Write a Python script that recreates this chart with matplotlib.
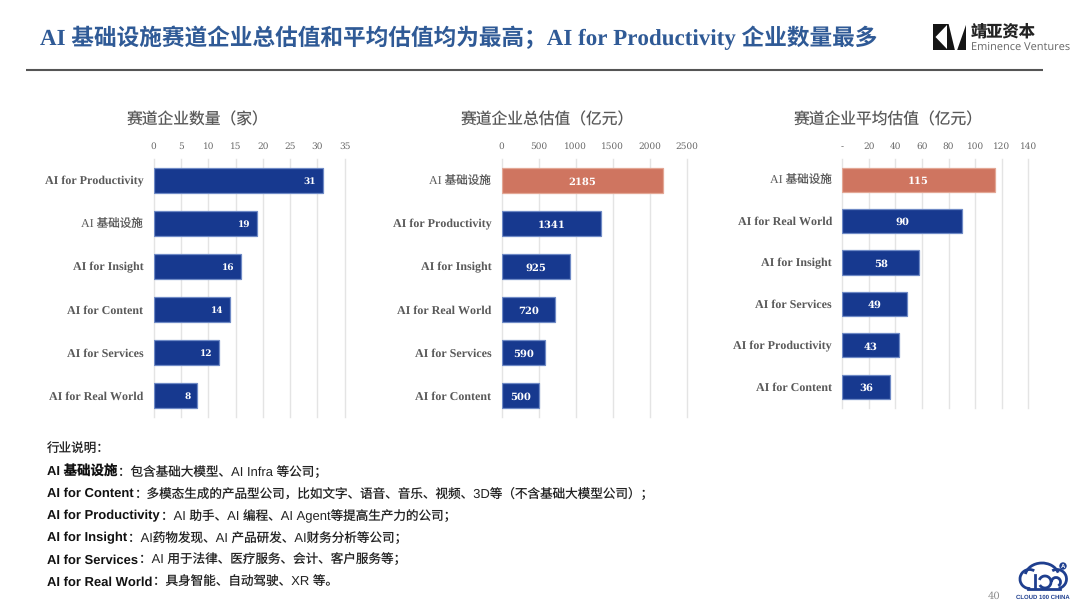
import matplotlib
matplotlib.use('Agg')
import matplotlib.pyplot as plt
from matplotlib.patches import Rectangle, Polygon, Arc, Circle

plt.rcParams['text.hinting'] = 'no_hinting'
plt.rcParams['text.hinting_factor'] = 1

W, H = 1080, 607
SERIF = ['Liberation Serif', 'Noto Sans CJK SC']
DIGIT = ['DejaVu Serif']
SANS = ['Liberation Sans', 'Noto Sans CJK SC']

TITLE = 'AI 基础设施赛道企业总估值和平均估值均为最高；AI for Productivity 企业数量最多'

chart_titles = ['赛道企业数量（家）', '赛道企业总估值（亿元）', '赛道企业平均估值（亿元）']

count_cats = ['AI for Productivity', 'AI 基础设施', 'AI for Insight', 'AI for Content', 'AI for Services', 'AI for Real World']
count_vals = [31, 19, 16, 14, 12, 8]
count_ticks = [0, 5, 10, 15, 20, 25, 30, 35]

total_cats = ['AI 基础设施', 'AI for Productivity', 'AI for Insight', 'AI for Real World', 'AI for Services', 'AI for Content']
total_vals = [2185, 1341, 925, 720, 590, 500]
total_ticks = [0, 500, 1000, 1500, 2000, 2500]

avg_cats = ['AI 基础设施', 'AI for Real World', 'AI for Insight', 'AI for Services', 'AI for Productivity', 'AI for Content']
avg_vals = [115, 90, 58, 49, 43, 36]
avg_ticks = [0, 20, 40, 60, 80, 100, 120, 140]
avg_ticklabels = ['-', '20', '40', '60', '80', '100', '120', '140']

notes_head = '行业说明：'
notes_bold = ['AI 基础设施', 'AI for Content', 'AI for Productivity', 'AI for Insight', 'AI for Services', 'AI for Real World']
notes_text = ['：包含基础大模型、AI Infra 等公司；',
              '：多模态生成的产品型公司，比如文字、语音、音乐、视频、3D等（不含基础大模型公司）；',
              '：AI 助手、AI 编程、AI Agent等提高生产力的公司；',
              '：AI药物发现、AI 产品研发、AI财务分析等公司；',
              '：AI 用于法律、医疗服务、会计、客户服务等；',
              '：具身智能、自动驾驶、XR 等。']

BLUE = '#17398F'
EDGE = '#6F8AC6'
HILITE = '#CF7560'
HILITE_EDGE = '#E3A795'
GREY = '#595959'
TITLE_BLUE = '#2F5A96'

fig = plt.figure(figsize=(W / 100, H / 100), dpi=100, facecolor='white')
bg = fig.add_axes([0, 0, 1, 1])
bg.set_xlim(0, W)
bg.set_ylim(H, 0)
bg.axis('off')

bg.text(40, 38, TITLE, family=SERIF, weight='bold', fontsize=16.3, color=TITLE_BLUE, va='center', ha='left')
bg.plot([26, 1043], [69.5, 69.5], color='#555555', lw=1.5, solid_capstyle='butt')


def bar_panel(rect, cats, vals, ticks, xmax, ticklabels=None, hilite=None):
    l, t, r, b = rect
    ax = fig.add_axes([l / W, 1 - b / H, (r - l) / W, (b - t) / H])
    ax.set_facecolor('none')
    pos = list(range(len(cats)))
    colors = [HILITE if i == hilite else BLUE for i in pos]
    edges = [HILITE_EDGE if i == hilite else EDGE for i in pos]
    ax.barh(pos, vals, height=0.585, color=colors, edgecolor=edges, linewidth=0.9, zorder=3)
    ax.set_xlim(0, xmax)
    ax.set_ylim(len(cats) - 0.5, -0.5)
    ax.set_xticks(ticks)
    ax.set_xticklabels(ticklabels if ticklabels else [str(v) for v in ticks],
                       family=DIGIT, fontsize=6.5, color='#666666')
    ax.set_yticks(pos)
    ax.set_yticklabels(cats, family=SERIF, fontsize=8.3, weight='bold', color=GREY)
    for lab, c in zip(ax.get_yticklabels(), cats):
        if not c.isascii():
            lab.set_fontweight('normal')
    ax.xaxis.tick_top()
    ax.tick_params(axis='x', length=0, pad=6)
    ax.tick_params(axis='y', length=0, pad=7.5)
    ax.grid(axis='x', color='#E4E4E4', lw=1.0, zorder=0)
    for g in ax.get_xgridlines():
        g.set_clip_on(False)
    for s in ax.spines.values():
        s.set_visible(False)
    return ax


ax1 = bar_panel((153.7, 159, 344.6, 417), count_cats, count_vals, count_ticks, 35)
for i, v in enumerate(count_vals):
    ax1.annotate(str(v), (v, i), xytext=(-4.8, -1), textcoords='offset points', ha='right', va='center',
                 family=DIGIT, weight='bold', fontsize=6.4, color='white', zorder=4)

ax2 = bar_panel((501.7, 159, 686.8, 417), total_cats, total_vals, total_ticks, 2500, hilite=0)
for i, v in enumerate(total_vals):
    ax2.annotate(str(v), (v / 2, i), xytext=(0, -1), textcoords='offset points', ha='center', va='center',
                 family=DIGIT, weight='bold', fontsize=7.2, color='white', zorder=4)

ax3 = bar_panel((842.3, 159, 1028.3, 407.5), avg_cats, avg_vals, avg_ticks, 140,
                ticklabels=avg_ticklabels, hilite=0)
for i, v in enumerate(avg_vals):
    ax3.annotate(str(v), (v / 2, i), xytext=(0, -1), textcoords='offset points', ha='center', va='center',
                 family=DIGIT, weight='bold', fontsize=7.0, color='white', zorder=4)

for x, s in zip([198, 547.5, 888], chart_titles):
    bg.text(x, 120.5, s, family=SANS, fontsize=11.35, color=GREY, ha='center', va='center')

# Notes
bg.text(47, 449, notes_head, family=SANS, fontsize=9.05, color='#222222', va='center')
fig.canvas.draw()
rend = fig.canvas.get_renderer()
for k, (b_, t_) in enumerate(zip(notes_bold, notes_text)):
    y = 471.8 + k * 22.2
    tb = bg.text(47, y, b_, family=SANS, fontsize=9.7, weight='bold', color='#111111', va='center')
    ext = tb.get_window_extent(rend)
    bg.text(ext.x1 + 1, y, t_, family=SANS, fontsize=9.05, color='#222222', va='center')

# Eminence logo
bg.add_patch(Rectangle((933, 24), 33, 26, fc='#151515', ec='none'))
bg.add_patch(Polygon([[935.5, 37], [947, 25], [947, 49]], fc='white', ec='none'))
bg.add_patch(Polygon([[948.5, 23.5], [966.5, 23.5], [957, 50.5], [955, 50.5]], fc='white', ec='none'))
bg.text(971, 32, '靖亚资本', family=['Noto Sans CJK SC'], weight='bold', fontsize=11.7, color='#222222', va='center')
bg.text(971, 47, 'Eminence Ventures', family=['Open Sans'], fontsize=7.6, color='#666666', va='center')

# Page number
bg.text(994, 596, '40', family=DIGIT, fontsize=7, color='#8C8C8C', ha='center', va='center')

# Cloud 100 logo
C = '#1F3F8F'
lw = 2.0
bg.add_patch(Arc((1042, 577), 34, 28, theta1=190, theta2=345, color=C, lw=lw))
bg.add_patch(Arc((1029.5, 579), 19, 19, theta1=85, theta2=300, color=C, lw=lw))
bg.add_patch(Arc((1057, 579), 19, 19, theta1=240, theta2=80, color=C, lw=lw))
bg.add_patch(Arc((1045, 582), 12, 12, theta1=200, theta2=150, color=C, lw=lw))
bg.add_patch(Arc((1056, 582), 9, 9, theta1=180, theta2=60, color=C, lw=lw))
bg.plot([1035, 1035], [575, 588], color=C, lw=lw)
bg.plot([1028, 1060], [588.5, 588.5], color=C, lw=lw)
bg.add_patch(Circle((1063, 566), 3.7, fc=C, ec='none'))
bg.text(1063, 566, 'A', family=['Liberation Sans'], weight='bold', fontsize=4, color='white', ha='center', va='center')
bg.text(1043, 597, 'CLOUD 100 CHINA', family=['Liberation Sans'], weight='bold', fontsize=4.1,
        color=C, ha='center', va='center')

fig.savefig('out.png', dpi=100, facecolor='white')
